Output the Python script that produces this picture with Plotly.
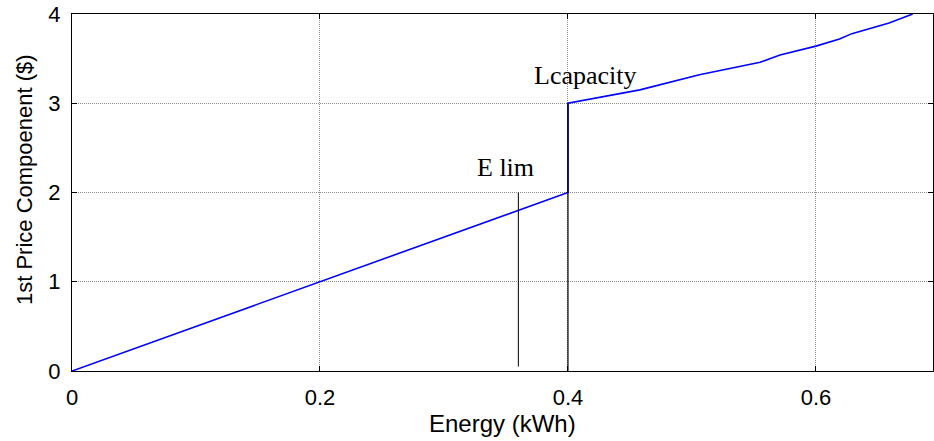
import plotly.graph_objects as go

# Price curve data (kWh, $)
energy = [0.0, 0.05, 0.10, 0.15, 0.20, 0.25, 0.30, 0.35, 0.40, 0.40, 0.458, 0.506, 0.555, 0.571, 0.60, 0.619, 0.629, 0.659, 0.678]
price = [0.0, 0.25, 0.50, 0.75, 1.00, 1.25, 1.50, 1.75, 2.00, 3.00, 3.15, 3.32, 3.46, 3.54, 3.64, 3.72, 3.78, 3.90, 4.00]

# Marker lines
elim_x = [0.36, 0.36]
elim_y = [0.05, 2.0]
lcap_x = [0.40, 0.40]
lcap_y = [0.0, 3.0]

x_ticks = [0, 0.2, 0.4, 0.6]
x_tick_labels = ["0", "0.2", "0.4", "0.6"]
y_ticks = [0, 1, 2, 3, 4]
y_tick_labels = ["0", "1", "2", "3", "4"]

fig = go.Figure()
fig.add_trace(go.Scatter(x=energy, y=price, mode="lines",
                         line=dict(color="#0000ff", width=1.6), showlegend=False))
fig.add_trace(go.Scatter(x=elim_x, y=elim_y, mode="lines",
                         line=dict(color="black", width=1), showlegend=False))
fig.add_trace(go.Scatter(x=lcap_x, y=lcap_y, mode="lines",
                         line=dict(color="black", width=1.2), showlegend=False))

fig.add_annotation(x=0.35, y=2.275, text="E lim", showarrow=False,
                   xanchor="center", yanchor="middle",
                   font=dict(family="Liberation Serif", size=26, color="black"))
fig.add_annotation(x=0.4145, y=3.31, text="Lcapacity", showarrow=False,
                   xanchor="center", yanchor="middle",
                   font=dict(family="Liberation Serif", size=26, color="black"))

# Axis titles
fig.add_annotation(xref="paper", yref="paper", x=0.5, y=-0.1457, text="Energy (kWh)",
                   showarrow=False, xanchor="center", yanchor="middle",
                   font=dict(family="Liberation Sans", size=24, color="black"))
fig.add_annotation(xref="paper", yref="paper", x=-0.0557, y=0.535,
                   text="1st Price Compoenent ($)", textangle=-90,
                   showarrow=False, xanchor="center", yanchor="middle",
                   font=dict(family="Liberation Sans", size=22, color="black"))

axis_common = dict(showline=True, linecolor="black", linewidth=1.2, mirror="allticks",
                   ticks="inside", ticklen=5, tickcolor="black",
                   showgrid=True, gridcolor="#8c8c8c", griddash="1px,1px", gridwidth=1,
                   zeroline=False,
                   tickfont=dict(family="Liberation Sans", size=22, color="black"))

fig.update_xaxes(range=[0, 0.6944], tickvals=x_ticks, ticktext=x_tick_labels,
                 ticklabelstandoff=6, **axis_common)
fig.update_yaxes(range=[0, 4], tickvals=y_ticks, ticktext=y_tick_labels,
                 ticklabelstandoff=6, **axis_common)

fig.update_layout(width=934, height=441, margin=dict(l=72, r=1, t=14, b=70),
                  paper_bgcolor="white", plot_bgcolor="white")

fig.write_html("out.html")
